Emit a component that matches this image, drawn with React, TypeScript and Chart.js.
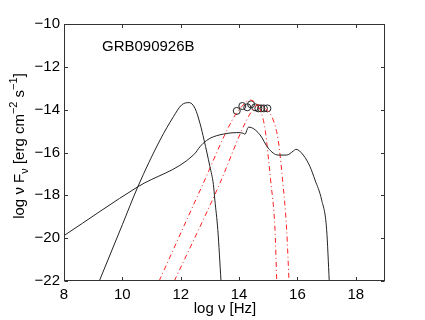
import React, { useEffect, useRef } from "react";
import { Chart, registerables } from "chart.js";

Chart.register(...registerables);

// Synchrotron-like curve
const synX = [9.21, 10.0, 10.53, 11.29, 11.75, 12.03, 12.29, 12.49, 12.66, 12.8, 13.0, 13.12, 13.17, 13.27, 13.38];
const synY = [-22, -19.37, -17.6, -15.42, -14.33, -13.78, -13.67, -13.94, -14.64, -15.42, -16.66, -17.5, -18.22, -19.6, -22];

// Broad curve
const broadX = [8, 10.53, 12.45, 12.66, 12.77, 13.0, 13.46, 13.92, 14.14, 14.2, 14.32, 14.43, 14.72, 15.0, 15.34, 15.63, 15.86, 15.95, 16.2, 16.43, 16.6, 16.83, 17.0, 17.09];
const broadY = [-19.88, -17.6, -16.1, -15.73, -15.57, -15.34, -15.14, -15.07, -15.1, -15.15, -14.82, -14.84, -15.18, -15.8, -16.12, -16.12, -15.93, -15.85, -16.12, -16.66, -17.28, -18.22, -19.6, -22];

// Red dash-dot curve 1
const red1X = [11.26, 12.72, 13.8, 14.14, 14.37, 14.6, 14.77, 14.9, 15.0, 15.08, 15.23, 15.29];
const red1Y = [-22, -17.6, -14.4, -13.78, -13.55, -13.75, -14.17, -15.0, -16.2, -17.28, -19.6, -22];

// Red dash-dot curve 2
const red2X = [11.78, 13.29, 14.26, 14.55, 14.7, 14.9, 15.17, 15.34, 15.49, 15.63, 15.71];
const red2Y = [-22, -17.6, -14.48, -13.86, -13.78, -13.95, -14.48, -15.42, -17.28, -19.6, -22];

// Observed points
const obsX = [13.92, 14.11, 14.28, 14.41, 14.55, 14.66, 14.75, 14.85, 14.97];
const obsY = [-14.06, -13.83, -13.89, -13.75, -13.89, -13.94, -13.94, -13.94, -13.94];

const xTicks = [8, 10, 12, 14, 16, 18];
const yTicks = [-22, -20, -18, -16, -14, -12, -10];
const titleText = "GRB090926B";

const pts = (xs: number[], ys: number[]) => xs.map((x, i) => ({ x, y: ys[i] }));
const fmt = (v: number) => (v < 0 ? "\u2212" + Math.abs(v) : String(v));
const FONT = "'Liberation Sans', Arial, Helvetica, sans-serif";

const framePlugin = {
  id: "frame",
  afterDraw(chart: any) {
    const { ctx, chartArea: a, scales } = chart;
    const xs = scales.x;
    const ys = scales.y;
    ctx.save();
    ctx.strokeStyle = "#333";
    ctx.lineWidth = 1;
    const L = Math.round(a.left) + 0.5;
    const R = Math.round(a.right) - 0.5;
    const T = Math.round(a.top) + 0.5;
    const B = Math.round(a.bottom) - 0.5;
    ctx.strokeRect(L, T, R - L, B - T);
    const tl = 3.5;
    ctx.beginPath();
    xTicks.forEach((v) => {
      const px = Math.round(xs.getPixelForValue(v)) + 0.5;
      ctx.moveTo(px, B);
      ctx.lineTo(px, B - tl);
      ctx.moveTo(px, T);
      ctx.lineTo(px, T + tl);
    });
    yTicks.forEach((v) => {
      const py = Math.round(ys.getPixelForValue(v)) + 0.5;
      ctx.moveTo(L, py);
      ctx.lineTo(L + tl, py);
      ctx.moveTo(R, py);
      ctx.lineTo(R - tl, py);
    });
    ctx.stroke();

    // title text inside plot
    ctx.fillStyle = "#000";
    ctx.font = `15px ${FONT}`;
    ctx.textBaseline = "alphabetic";
    ctx.textAlign = "left";
    ctx.fillText(titleText, 102, 51);

    // x-axis label
    ctx.textAlign = "center";
    ctx.font = `15px ${FONT}`;
    ctx.fillText("log \u03bd [Hz]", 225, 313);

    // y-axis label with sub/superscripts
    ctx.translate(24, 146);
    ctx.rotate(-Math.PI / 2);
    ctx.textAlign = "left";
    const big = `15px ${FONT}`;
    const small = `11px ${FONT}`;
    const parts: [string, string, number][] = [
      ["log \u03bd F", big, 0],
      ["\u03bd", small, 4],
      [" [erg cm", big, 0],
      ["\u22122", small, -7],
      [" s", big, 0],
      ["\u22121", small, -7],
      ["]", big, 0],
    ];
    let total = 0;
    parts.forEach(([t, f]) => {
      ctx.font = f;
      total += ctx.measureText(t).width;
    });
    let x = -total / 2;
    parts.forEach(([t, f, dy]) => {
      ctx.font = f;
      ctx.fillText(t, x, dy);
      x += ctx.measureText(t).width;
    });
    ctx.restore();
  },
};

export default function App() {
  const ref = useRef<HTMLCanvasElement | null>(null);
  useEffect(() => {
    if (!ref.current) return;
    const lineDs = (label: string, data: any[], color: string, dash: number[] = []) => ({
      label,
      data,
      showLine: true,
      borderColor: color,
      borderWidth: 1,
      borderDash: dash,
      pointRadius: 0,
      fill: false,
      cubicInterpolationMode: "monotone" as const,
    });
    const chart = new Chart(ref.current, {
      type: "scatter",
      data: {
        datasets: [
          lineDs("syn", pts(synX, synY), "#222"),
          lineDs("broad", pts(broadX, broadY), "#222"),
          lineDs("bb1", pts(red1X, red1Y), "#ff2020", [5, 3, 1, 3]),
          lineDs("bb2", pts(red2X, red2Y), "#ff2020", [5, 3, 1, 3]),
          {
            label: "obs",
            data: pts(obsX, obsY),
            showLine: false,
            pointStyle: "circle",
            pointRadius: 3.5,
            pointBorderColor: "#222",
            pointBackgroundColor: "rgba(0,0,0,0)",
            pointBorderWidth: 1,
          } as any,
        ],
      },
      options: {
        animation: false,
        responsive: false,
        devicePixelRatio: 1,
        layout: { padding: { top: 24, right: 40, left: 0, bottom: 0 } },
        plugins: { legend: { display: false }, tooltip: { enabled: false }, title: { display: false } },
        scales: {
          x: {
            type: "linear",
            min: 8,
            max: 19,
            grid: { display: false, drawTicks: false },
            border: { display: false },
            ticks: {
              stepSize: 2,
              includeBounds: false,
              padding: 5,
              color: "#000",
              font: { size: 15, family: FONT },
              callback: (v: any) => fmt(Number(v)),
            },
            afterFit: (s: any) => {
              s.height = 39;
            },
          },
          y: {
            type: "linear",
            min: -22,
            max: -10,
            grid: { display: false, drawTicks: false },
            border: { display: false },
            ticks: {
              stepSize: 2,
              padding: 4,
              color: "#000",
              font: { size: 15, family: FONT },
              callback: (v: any) => fmt(Number(v)),
            },
            afterFit: (s: any) => {
              s.width = 64;
            },
          },
        },
      },
      plugins: [framePlugin],
    });
    return () => chart.destroy();
  }, []);
  return (
    <div style={{ position: "absolute", left: 0, top: 0, width: 425, height: 320, background: "#fff" }}>
      <canvas ref={ref} width={425} height={320} style={{ width: 425, height: 320 }} />
    </div>
  );
}
